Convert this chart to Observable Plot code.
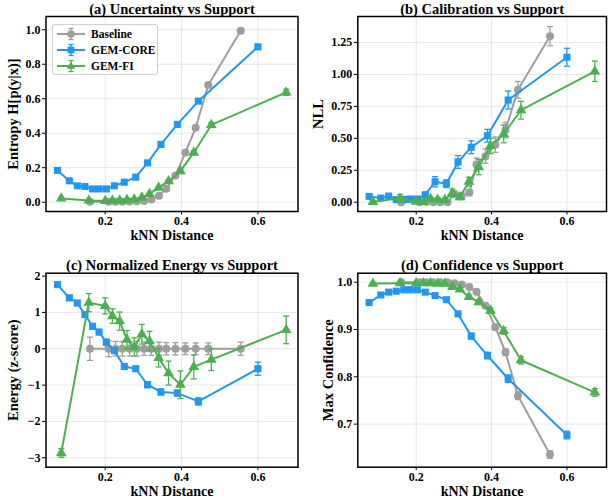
<!DOCTYPE html>
<html><head><meta charset="utf-8">
<script src="https://cdn.jsdelivr.net/npm/d3@7"></script>
<script src="https://cdn.jsdelivr.net/npm/@observablehq/plot@0.6"></script>
<style>
body{margin:0;background:#fff;}
#fig{position:relative;width:608px;height:501px;background:#fff;overflow:hidden;}
.panel{position:absolute;}
.legend{position:absolute;left:52px;top:24px;width:106px;height:51px;border:1px solid #cfcfcf;border-radius:3px;background:rgba(255,255,255,0.85);
 font-family:"Liberation Serif","Times New Roman",serif;font-weight:bold;font-size:11.5px;color:#000;box-sizing:border-box;padding-top:1px;}
.legend .row{display:flex;align-items:center;height:16px;}
.legend svg{margin-left:3px;margin-right:5px;}
</style></head><body><div id="fig"></div>
<script>
// ---- data ----
const models = ["Baseline", "GEM-CORE", "GEM-FI"];
const colors = ["#9E9E9E", "#2196F3", "#4CAF50"];
const symbols = ["circle", "square", "triangle"];

// kNN distance bin positions per model
const baseX = [0.160, 0.209, 0.227, 0.245, 0.264, 0.283, 0.302, 0.321, 0.341, 0.360, 0.384, 0.410, 0.437, 0.470, 0.555];
const coreX = [0.075, 0.106, 0.127, 0.147, 0.167, 0.184, 0.203, 0.224, 0.250, 0.280, 0.311, 0.346, 0.389, 0.444, 0.600];
const fiX   = [0.085, 0.157, 0.200, 0.219, 0.238, 0.257, 0.276, 0.296, 0.316, 0.340, 0.366, 0.397, 0.432, 0.478, 0.674];

// (a) Entropy
const baseEnt = [0.002, 0.002, 0.002, 0.003, 0.004, 0.005, 0.007, 0.015, 0.038, 0.078, 0.155, 0.288, 0.432, 0.680, 0.995];
const baseEntErr = [0.002, 0.002, 0.002, 0.002, 0.002, 0.003, 0.003, 0.004, 0.005, 0.006, 0.008, 0.010, 0.012, 0.012, 0.012];
const coreEnt = [0.184, 0.124, 0.095, 0.091, 0.077, 0.077, 0.077, 0.095, 0.116, 0.145, 0.228, 0.335, 0.451, 0.586, 0.901];
const coreEntErr = [0.006, 0.006, 0.006, 0.006, 0.005, 0.005, 0.005, 0.006, 0.006, 0.007, 0.008, 0.009, 0.010, 0.012, 0.014];
const fiEnt = [0.022, 0.010, 0.007, 0.009, 0.010, 0.013, 0.016, 0.028, 0.048, 0.085, 0.122, 0.180, 0.287, 0.448, 0.637];
const fiEntErr = [0.003, 0.003, 0.003, 0.003, 0.003, 0.003, 0.003, 0.004, 0.005, 0.006, 0.008, 0.010, 0.012, 0.015, 0.018];

// (b) NLL
const baseNLL = [0.000, 0.000, 0.003, 0.000, 0.000, 0.000, 0.065, 0.050, 0.075, 0.295, 0.360, 0.450, 0.565, 0.880, 1.300];
const baseNLLErr = [0.010, 0.010, 0.010, 0.010, 0.010, 0.010, 0.020, 0.020, 0.025, 0.050, 0.055, 0.060, 0.060, 0.065, 0.075];
const coreNLL = [0.045, 0.032, 0.048, 0.020, 0.022, 0.025, 0.025, 0.058, 0.160, 0.145, 0.315, 0.430, 0.520, 0.800, 1.135];
const coreNLLErr = [0.015, 0.010, 0.015, 0.010, 0.010, 0.010, 0.010, 0.020, 0.040, 0.030, 0.050, 0.050, 0.050, 0.070, 0.070];
const fiNLL = [0.003, 0.030, 0.005, 0.003, 0.025, 0.020, 0.018, 0.073, 0.040, 0.160, 0.275, 0.440, 0.535, 0.720, 1.025];
const fiNLLErr = [0.010, 0.030, 0.010, 0.010, 0.015, 0.015, 0.015, 0.030, 0.020, 0.035, 0.060, 0.060, 0.070, 0.070, 0.080];

// (c) Normalized energy
const baseEn = [0, 0, 0, 0, 0, 0, 0, 0, 0, 0, 0, 0, 0, 0, 0];
const baseEnErr = [0.32, 0.22, 0.20, 0.20, 0.20, 0.20, 0.18, 0.18, 0.18, 0.17, 0.17, 0.16, 0.16, 0.16, 0.18];
const coreEn = [1.765, 1.40, 1.26, 0.94, 0.62, 0.46, 0.18, -0.05, -0.49, -0.55, -0.99, -1.19, -1.22, -1.45, -0.55];
const coreEnErr = [0.06, 0.07, 0.07, 0.07, 0.07, 0.07, 0.08, 0.08, 0.07, 0.07, 0.08, 0.08, 0.08, 0.10, 0.18];
const fiEn = [-2.87, 1.27, 1.18, 0.90, 0.76, 0.25, 0.05, 0.40, 0.21, -0.25, -0.67, -0.99, -0.50, -0.30, 0.52];
const fiEnErr = [0.12, 0.25, 0.22, 0.20, 0.25, 0.25, 0.25, 0.27, 0.27, 0.25, 0.33, 0.38, 0.33, 0.30, 0.38];

// (d) Max confidence
const baseConf = [1.000, 1.000, 1.000, 1.000, 1.000, 1.000, 0.998, 0.995, 0.990, 0.980, 0.950, 0.905, 0.852, 0.760, 0.636];
const baseConfErr = [0.001, 0.001, 0.001, 0.001, 0.001, 0.001, 0.002, 0.002, 0.003, 0.004, 0.005, 0.006, 0.007, 0.008, 0.008];
const coreConf = [0.957, 0.973, 0.979, 0.981, 0.984, 0.984, 0.984, 0.979, 0.972, 0.963, 0.933, 0.886, 0.845, 0.796, 0.677];
const coreConfErr = [0.003, 0.003, 0.003, 0.003, 0.003, 0.003, 0.003, 0.003, 0.003, 0.004, 0.005, 0.006, 0.007, 0.008, 0.008];
const fiConf = [0.997, 0.998, 0.998, 0.998, 0.998, 0.997, 0.997, 0.990, 0.985, 0.969, 0.958, 0.940, 0.897, 0.835, 0.767];
const fiConfErr = [0.002, 0.002, 0.002, 0.002, 0.002, 0.002, 0.002, 0.003, 0.003, 0.004, 0.005, 0.006, 0.007, 0.008, 0.008];

const xTicks = [0.2, 0.4, 0.6];
const xDomain = [0.045, 0.705];
const xs = [baseX, coreX, fiX];

// ---- drawing ----
const FONT = '"Liberation Serif","Times New Roman",serif';
const cap = {draw(ctx, size) { const w = Math.sqrt(size / Math.PI); ctx.moveTo(-w, 0); ctx.lineTo(w, 0); }};

function panel(cfg) {
  const marks = [
    Plot.gridX({ticks: xTicks, stroke: "#b0b0b0", strokeOpacity: 0.35, strokeWidth: 0.9}),
    Plot.gridY({ticks: cfg.yTicks, stroke: "#b0b0b0", strokeOpacity: 0.35, strokeWidth: 0.9})
  ];
  cfg.series.forEach((s, i) => {
    const d = s.y.map((v, j) => ({x: xs[i][j], y: v, lo: v - s.e[j], hi: v + s.e[j]}));
    marks.push(
      Plot.line(d, {x: "x", y: "y", stroke: colors[i], strokeWidth: 2}),
      Plot.ruleX(d, {x: "x", y1: "lo", y2: "hi", stroke: colors[i], strokeWidth: 1.3}),
      Plot.dot(d, {x: "x", y: "lo", symbol: cap, r: 3, fill: "none", stroke: colors[i], strokeWidth: 1.3}),
      Plot.dot(d, {x: "x", y: "hi", symbol: cap, r: 3, fill: "none", stroke: colors[i], strokeWidth: 1.3}),
      Plot.dot(d, {x: "x", y: "y", symbol: symbols[i], r: 4, fill: colors[i], stroke: "none"})
    );
  });
  marks.push(
    Plot.axisX({ticks: xTicks, tickFormat: d3.format(".1f"), tickSize: 3.5, tickPadding: 1.5, label: null}),
    Plot.axisY({ticks: cfg.yTicks, tickFormat: cfg.yFormat, tickSize: 3.5, tickPadding: 2, label: null}),
    Plot.frame({stroke: "black", strokeWidth: 1.5}),
    Plot.text([cfg.title], {text: d => d, frameAnchor: "top", lineAnchor: "middle", dy: -7.5, fontSize: 14.5, fontWeight: "bold"}),
    Plot.text(["kNN Distance"], {text: d => d, frameAnchor: "bottom", lineAnchor: "middle", dy: 24.5, fontSize: 14, fontWeight: "bold"}),
    Plot.text([cfg.ylabel], {text: d => d, frameAnchor: "left", textAnchor: "middle", lineAnchor: "middle", rotate: -90, dx: cfg.ylabelDx, fontSize: 14.5, fontWeight: "bold"})
  );
  const svg = Plot.plot({
    width: cfg.width, height: cfg.height,
    marginLeft: cfg.ml, marginRight: cfg.mr, marginTop: cfg.mt, marginBottom: cfg.mb,
    x: {domain: xDomain},
    y: {domain: cfg.yDomain},
    style: {fontFamily: FONT, fontWeight: "bold", fontSize: "12px", color: "black", background: "transparent", overflow: "visible"},
    marks
  });
  svg.classList.add("panel");
  svg.style.left = cfg.left + "px";
  svg.style.top = cfg.top + "px";
  document.getElementById("fig").appendChild(svg);
}

panel({title: "(a) Uncertainty vs Support", ylabel: "Entropy H[p(y|x)]", ylabelDx: -33,
  left: 0, top: 0, width: 304, height: 250, ml: 45.5, mr: 6.5, mt: 16, mb: 39,
  yDomain: [-0.054, 1.077], yTicks: [0, 0.2, 0.4, 0.6, 0.8, 1.0], yFormat: d3.format(".1f"),
  series: [{y: baseEnt, e: baseEntErr}, {y: coreEnt, e: coreEntErr}, {y: fiEnt, e: fiEntErr}]});

panel({title: "(b) Calibration vs Support", ylabel: "NLL", ylabelDx: -39,
  left: 304, top: 0, width: 304, height: 250, ml: 53.3, mr: 2, mt: 16, mb: 39,
  yDomain: [-0.073, 1.454], yTicks: [0, 0.25, 0.5, 0.75, 1.0, 1.25], yFormat: d3.format(".2f"),
  series: [{y: baseNLL, e: baseNLLErr}, {y: coreNLL, e: coreNLLErr}, {y: fiNLL, e: fiNLLErr}]});

panel({title: "(c) Normalized Energy vs Support", ylabel: "Energy (z-score)", ylabelDx: -33,
  left: 0, top: 250, width: 304, height: 251, ml: 45.5, mr: 6.5, mt: 22.7, mb: 34.3,
  yDomain: [-3.26, 2.08], yTicks: [-3, -2, -1, 0, 1, 2], yFormat: d3.format("d"),
  series: [{y: baseEn, e: baseEnErr}, {y: coreEn, e: coreEnErr}, {y: fiEn, e: fiEnErr}]});

panel({title: "(d) Confidence vs Support", ylabel: "Max Confidence", ylabelDx: -29,
  left: 304, top: 250, width: 304, height: 251, ml: 53.3, mr: 2, mt: 22.7, mb: 34.3,
  yDomain: [0.609, 1.019], yTicks: [0.7, 0.8, 0.9, 1.0], yFormat: d3.format(".1f"),
  series: [{y: baseConf, e: baseConfErr}, {y: coreConf, e: coreConfErr}, {y: fiConf, e: fiConfErr}]});

// legend (panel a)
const legend = document.createElement("div");
legend.className = "legend";
const shapes = {
  circle: c => `<circle cx="15" cy="7" r="3.8" fill="${c}"/>`,
  square: c => `<rect x="11.6" y="3.6" width="6.8" height="6.8" fill="${c}"/>`,
  triangle: c => `<path d="M15,2.7 L19.3,9.8 L10.7,9.8 Z" fill="${c}"/>`
};
models.forEach((m, i) => {
  const c = colors[i];
  const row = document.createElement("div");
  row.className = "row";
  row.innerHTML = `<svg width="30" height="14"><line x1="1" x2="29" y1="7" y2="7" stroke="${c}" stroke-width="2"/>` +
    `<line x1="15" x2="15" y1="1.5" y2="12.5" stroke="${c}" stroke-width="1.3"/>` +
    `<line x1="12.5" x2="17.5" y1="1.5" y2="1.5" stroke="${c}" stroke-width="1.3"/>` +
    `<line x1="12.5" x2="17.5" y1="12.5" y2="12.5" stroke="${c}" stroke-width="1.3"/>` +
    shapes[symbols[i]](c) + `</svg><span>${m}</span>`;
  legend.appendChild(row);
});
document.getElementById("fig").appendChild(legend);
</script>
</body></html>
